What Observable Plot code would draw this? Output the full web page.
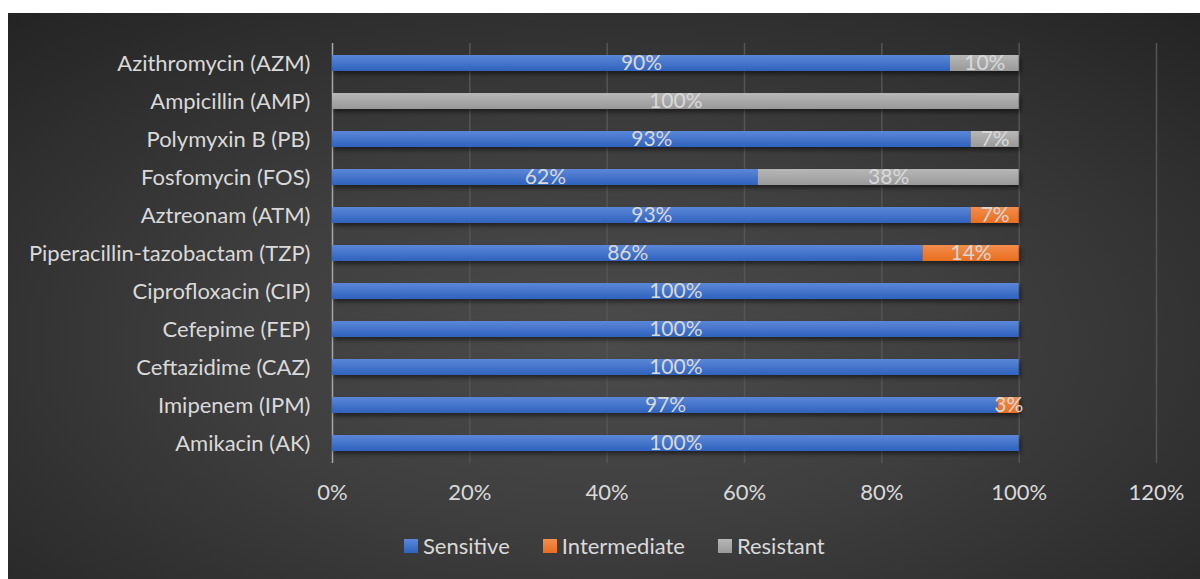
<!DOCTYPE html>
<html><head><meta charset="utf-8">
<script src="https://cdn.jsdelivr.net/npm/d3@7"></script>
<script src="https://cdn.jsdelivr.net/npm/@observablehq/plot@0.6"></script>
<style>
html,body{margin:0;padding:0;background:#fff;width:1200px;height:579px;overflow:hidden;}
#card{position:absolute;left:8px;top:13px;width:1192px;height:566px;
  background:radial-gradient(ellipse 75% 80% at 50% 58%, #4b4b4b 0%, #3f3f3f 40%, #232323 100%);
  font-family:Lato, "Open Sans", sans-serif;}
#chart{position:absolute;left:0;top:0;}
#legend{position:absolute;top:519px;left:396px;display:flex;align-items:center;gap:33px;color:#d9d9d9;font-size:22px;}
.item{display:flex;align-items:center;gap:5px;}
.sw{width:14px;height:14px;display:inline-block;}
</style></head>
<body>
<svg width="0" height="0" style="position:absolute">
  <defs>
    <linearGradient id="gS" x1="0" y1="0" x2="0" y2="1"><stop offset="0" stop-color="#5b87d8"/><stop offset="1" stop-color="#2f62bd"/></linearGradient>
    <linearGradient id="gI" x1="0" y1="0" x2="0" y2="1"><stop offset="0" stop-color="#f38d4c"/><stop offset="1" stop-color="#e86e1e"/></linearGradient>
    <linearGradient id="gR" x1="0" y1="0" x2="0" y2="1"><stop offset="0" stop-color="#b7b7b7"/><stop offset="1" stop-color="#999999"/></linearGradient>
    <filter id="shadow" x="-5%" y="-50%" width="110%" height="250%">
      <feDropShadow dx="2" dy="3" stdDeviation="2" flood-color="#000" flood-opacity="0.5"/>
    </filter>
  </defs>
</svg>
<div id="card">
  <div id="chart"></div>
  <div id="legend"></div>
</div>
<script>
const drugs = ["Azithromycin (AZM)", "Ampicillin (AMP)", "Polymyxin B (PB)", "Fosfomycin (FOS)", "Aztreonam (ATM)", "Piperacillin-tazobactam (TZP)", "Ciprofloxacin (CIP)", "Cefepime (FEP)", "Ceftazidime (CAZ)", "Imipenem (IPM)", "Amikacin (AK)"];
const sensitive    = [90, 0, 93, 62, 93, 86, 100, 100, 100, 97, 100];
const intermediate = [0, 0, 0, 0, 7, 14, 0, 0, 0, 3, 0];
const resistant    = [10, 100, 7, 38, 0, 0, 0, 0, 0, 0, 0];
const seriesNames = ["Sensitive", "Intermediate", "Resistant"];
const seriesFills = ["url(#gS)", "url(#gI)", "url(#gR)"];
const xTicks = [0, 20, 40, 60, 80, 100, 120];

const seriesValues = [sensitive, intermediate, resistant];
const rows = [];
drugs.forEach((drug, i) => {
  seriesNames.forEach((s, j) => {
    const v = seriesValues[j][i];
    if (v > 0) rows.push({drug, series: s, value: v});
  });
});

const plot = Plot.plot({
  width: 1192, height: 500,
  marginLeft: 324, marginRight: 44, marginTop: 30, marginBottom: 50,
  style: {background: "transparent", color: "#d9d9d9", fontFamily: "Lato, 'Open Sans', sans-serif", fontSize: "22px"},
  x: {domain: [0, 120], ticks: xTicks, tickFormat: d => d + "%", tickSize: 0, tickPadding: 21, label: null},
  y: {domain: drugs, paddingInner: 0.58, paddingOuter: 0.29, tickSize: 0, tickPadding: 22, label: null},
  color: {domain: seriesNames, range: seriesFills},
  marks: [
    Plot.ruleX(xTicks.filter(d => d > 0), {stroke: "#555555", strokeWidth: 1.5}),
    Plot.ruleX([0], {stroke: "#a6a6a6", strokeWidth: 1.5}),
    Plot.barX(rows, {x: "value", y: "drug", fill: "series", order: seriesNames}),
    Plot.text(rows, Plot.stackX({x: "value", y: "drug", z: "series", order: seriesNames, text: d => d.value + "%", fill: "#d9d9d9", fontSize: 21}))
  ]
});
const bars = plot.querySelector('g[aria-label="bar"]');
if (bars) bars.setAttribute("filter", "url(#shadow)");
document.getElementById("chart").appendChild(plot);

const legend = document.getElementById("legend");
seriesNames.forEach((s, j) => {
  const it = document.createElement("div");
  it.className = "item";
  const sw = document.createElement("span");
  sw.className = "sw";
  sw.style.background = ["linear-gradient(#5b87d8,#2f62bd)", "linear-gradient(#f38d4c,#e86e1e)", "linear-gradient(#b7b7b7,#999999)"][j];
  const t = document.createElement("span");
  t.textContent = s;
  it.appendChild(sw); it.appendChild(t);
  legend.appendChild(it);
});
</script>
</body></html>
